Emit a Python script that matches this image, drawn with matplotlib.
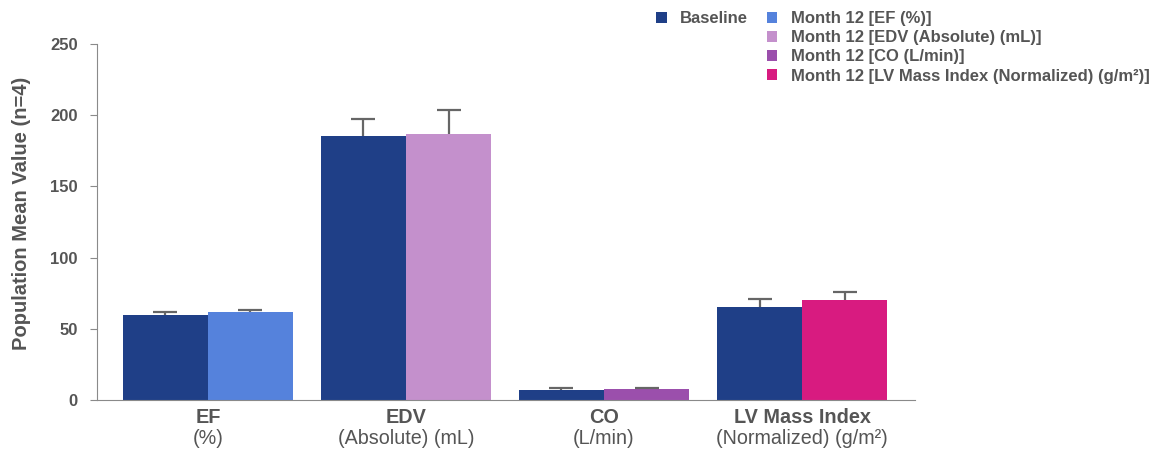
import numpy as np
import matplotlib
matplotlib.use('Agg')
import matplotlib.pyplot as plt
from matplotlib.patches import Patch

plt.rcParams['font.family'] = ['Liberation Sans', 'DejaVu Sans']

# data
metrics = ['EF', 'EDV', 'CO', 'LV Mass Index']
units = ['(%)', '(Absolute) (mL)', '(L/min)', '(Normalized) (g/m²)']
baseline = [60.0, 185.5, 7.3, 65.0]
baseline_err = [1.5, 12.0, 0.8, 6.0]
month12 = [61.5, 186.5, 7.6, 70.5]
month12_err = [2.0, 17.0, 0.8, 5.5]
month12_labels = ['Month 12 [EF (%)]', 'Month 12 [EDV (Absolute) (mL)]',
                  'Month 12 [CO (L/min)]',
                  'Month 12 [LV Mass Index (Normalized) (g/m²)]']

base_color = '#1f3f87'
m12_colors = ['#5582dc', '#c490cc', '#9b4fac', '#d81b80']
text_gray = '#555555'
axis_gray = '#8a8a8a'
err_gray = '#666666'

fig = plt.figure(figsize=(11.64, 4.5), dpi=100)
ax = fig.add_axes([97 / 1164, 1 - 400 / 450, 818 / 1164, 356 / 450])

x = np.arange(len(metrics))
w = 0.43
ax.bar(x - w / 2, baseline, w, color=base_color, zorder=2)
ax.bar(x + w / 2, month12, w, color=m12_colors, zorder=2)

# upper-only error bars: stem from bar top, cap at the top end only
for xs, ys, es in [(x - w / 2, baseline, baseline_err),
                   (x + w / 2, month12, month12_err)]:
    ys = np.array(ys)
    es = np.array(es)
    ax.errorbar(xs, ys, yerr=[np.zeros(len(es)), es], fmt='none',
                ecolor=err_gray, elinewidth=1.6, capsize=0, zorder=3)
    ax.plot(xs, ys + es, ls='none', marker='_', ms=17, mew=1.6,
            color=err_gray, zorder=3)

ax.set_xlim(-0.56, 3.57)
ax.set_ylim(0, 250)
ax.set_yticks([0, 50, 100, 150, 200, 250])
ax.set_xticks([])

for s in ['top', 'right']:
    ax.spines[s].set_visible(False)
ax.spines['left'].set_color(axis_gray)
ax.spines['bottom'].set_color(axis_gray)
ax.tick_params(axis='y', colors=axis_gray, length=5, pad=9,
               labelsize=12, labelcolor=text_gray)
for lab in ax.get_yticklabels():
    lab.set_fontweight('bold')

# two-line category labels
trans = ax.get_xaxis_transform()
for xi, m, u in zip(x, metrics, units):
    ax.text(xi, -0.05, m, transform=trans, ha='center', va='center',
            fontsize=14.3, fontweight='bold', color=text_gray)
    ax.text(xi, -0.107, u, transform=trans, ha='center', va='center',
            fontsize=14.2, color=text_gray)

fig.text(22 / 1164, 1 - 213 / 450, 'Population Mean Value (n=4)', rotation=90,
         ha='center', va='center', fontsize=14.5, fontweight='bold',
         color=text_gray)

# legend: Baseline alone in first column, Month 12 series in second
blank = Patch(facecolor='none', edgecolor='none')
handles = [Patch(facecolor=base_color), blank, blank, blank]
labels = ['Baseline', '', '', '']
handles += [Patch(facecolor=c) for c in m12_colors]
labels += month12_labels
leg = fig.legend(handles, labels, ncol=2, loc='upper left',
                 bbox_to_anchor=(656 / 1164, 1 - 11 / 450), frameon=False,
                 borderpad=0, borderaxespad=0, handlelength=0.65,
                 handleheight=0.65, handletextpad=0.8, columnspacing=1.1,
                 labelspacing=0.25, prop={'size': 12, 'weight': 'bold'})
for t in leg.get_texts():
    t.set_color(text_gray)

fig.savefig('out.png', dpi=100)
